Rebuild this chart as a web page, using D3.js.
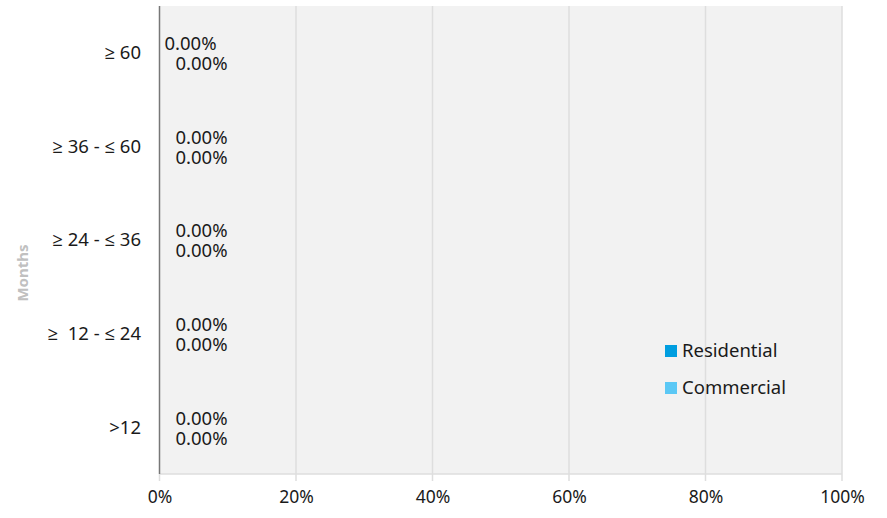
<!DOCTYPE html>
<html><head><meta charset="utf-8">
<script src="https://cdn.jsdelivr.net/npm/d3@7"></script>
<style>
html,body{margin:0;padding:0;background:#fff;}
svg{display:block;font-family:"Noto Sans","Open Sans",sans-serif;}
text{white-space:pre;}
</style></head>
<body><svg id="c" width="887" height="518"></svg>
<script>
const categories = ["≥ 60", "≥ 36 - ≤ 60", "≥ 24 - ≤ 36", "≥  12 - ≤ 24", ">12"];
const seriesNames = ["Residential", "Commercial"];
const residential = [0, 0, 0, 0, 0];
const commercial = [0, 0, 0, 0, 0];
const xTicks = [0, 0.2, 0.4, 0.6, 0.8, 1.0];
const colors = ["#009ee0", "#5bc8f5"];

const svg = d3.select("#c");
const m = {l:159.5, r:842, t:6, b:474};
const x = d3.scaleLinear().domain([0,1]).range([m.l, m.r]);
const y = d3.scaleBand().domain(categories).range([m.t, m.b]);
const y2 = d3.scaleBand().domain(seriesNames).range([0, y.bandwidth()]).paddingOuter(1.34).paddingInner(0);

svg.append("rect").attr("x", m.l).attr("y", m.t).attr("width", m.r - m.l).attr("height", m.b - m.t).attr("fill", "#f2f2f2");

// grid
svg.append("g").selectAll("line").data(xTicks.slice(1)).join("line")
  .attr("x1", d=>x(d)).attr("x2", d=>x(d)).attr("y1", m.t).attr("y2", m.b+7)
  .attr("stroke", "#dedede").attr("stroke-width", 1.5);
svg.append("line").attr("x1", m.l).attr("x2", m.r).attr("y1", m.b).attr("y2", m.b).attr("stroke", "#dedede").attr("stroke-width", 1.5);
svg.append("line").attr("x1", x(0)).attr("x2", x(0)).attr("y1", m.b).attr("y2", m.b+7).attr("stroke", "#dedede").attr("stroke-width", 1.5);

// x axis labels
const xa = svg.append("g").attr("transform", `translate(0,${m.b})`)
  .call(d3.axisBottom(x).tickValues(xTicks).tickFormat(d3.format(".0%")).tickSize(0).tickPadding(17));
xa.select(".domain").remove();
xa.selectAll("text").attr("font-size", 17.5).attr("fill", "#1a1a1a").attr("font-family", "'Noto Sans','Open Sans',sans-serif");

// left axis
svg.append("line").attr("x1", m.l).attr("x2", m.l).attr("y1", m.t).attr("y2", m.b).attr("stroke", "#777").attr("stroke-width", 1.5);
svg.append("g").selectAll("text").data(categories).join("text")
  .attr("x", 141).attr("y", d=>y(d)+y.bandwidth()/2).attr("dy", "0.35em")
  .attr("text-anchor", "end").attr("font-size", 18.5).attr("fill", "#1a1a1a").text(d=>d);

// y title
svg.append("text").attr("transform", "translate(28,273) rotate(-90)")
  .attr("text-anchor", "middle").attr("font-size", 15).attr("font-weight", "bold").attr("fill", "#c0c0c0").text("Months");

// bars + labels
const data = [residential, commercial];
const rows = [];
categories.forEach((c,i)=>seriesNames.forEach((s,j)=>rows.push({c, s, j, i, v:data[j][i]})));
const g = svg.append("g");
g.selectAll("rect").data(rows).join("rect")
  .attr("x", x(0)).attr("y", d=>y(d.c)+y2(d.s)).attr("height", y2.bandwidth())
  .attr("width", d=>x(d.v)-x(0)).attr("fill", d=>colors[d.j]);
g.selectAll("text").data(rows).join("text")
  .attr("x", d=>x(d.v) + ((d.i===0 && d.j===0) ? 5 : 16))
  .attr("y", d=>y(d.c)+y2(d.s)+y2.bandwidth()/2 + 1).attr("dy", "0.35em")
  .attr("font-size", 18.5).attr("fill", "#1a1a1a").text(d=>d3.format(".2%")(d.v));

// legend
const lg = svg.append("g").attr("transform", "translate(665,345)");
seriesNames.forEach((s,j)=>{
  lg.append("rect").attr("x", 0).attr("y", j*37).attr("width", 12).attr("height", 12).attr("fill", colors[j]);
  lg.append("text").attr("x", 17).attr("y", j*37+6).attr("dy", "0.35em").attr("font-size", 18.5).attr("fill", "#1a1a1a").text(s);
});
</script></body></html>
